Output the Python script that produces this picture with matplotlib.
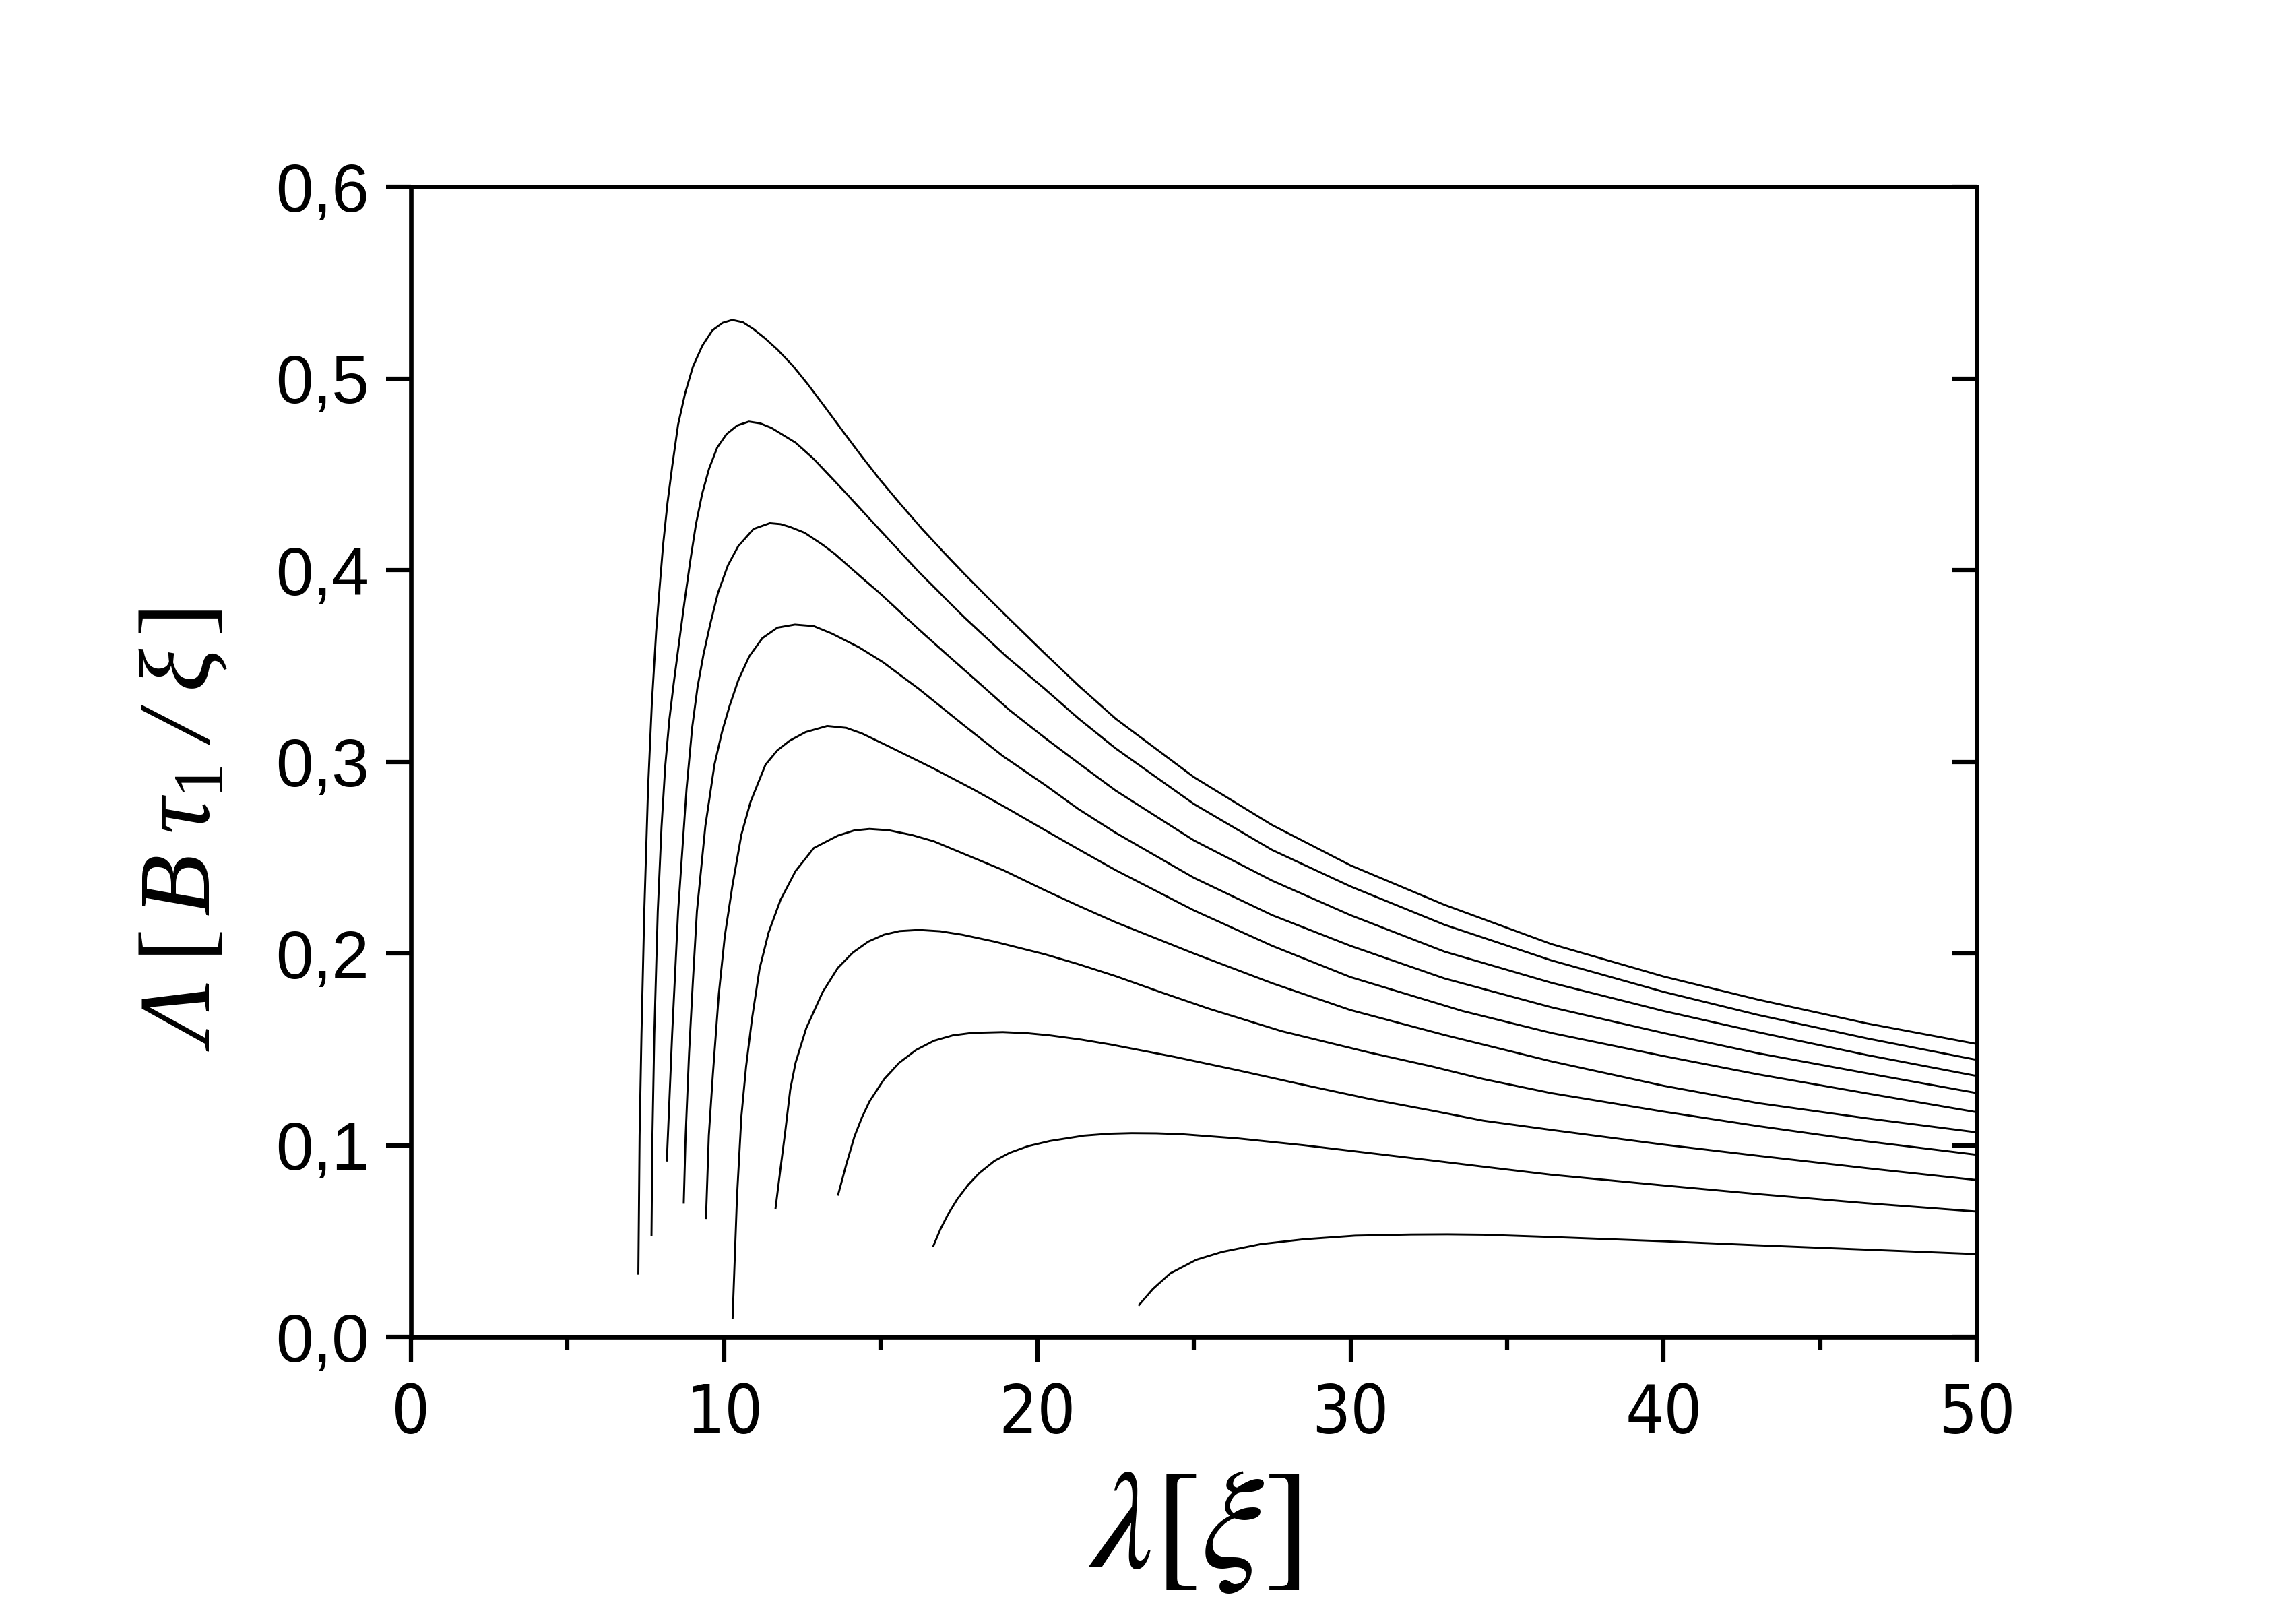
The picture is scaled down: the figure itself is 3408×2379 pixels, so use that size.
import matplotlib
matplotlib.use('Agg')
import matplotlib.pyplot as plt
from matplotlib import font_manager
from matplotlib.font_manager import FontProperties
from matplotlib.ticker import MultipleLocator, FuncFormatter, NullFormatter

# curves, from the highest peak down to the lowest
c1_x = [7.26, 7.30, 7.36, 7.45, 7.57, 7.69, 7.83, 7.94, 8.05, 8.19, 8.34, 8.53, 8.75, 9.00, 9.30,
        9.62, 9.95, 10.26, 10.6, 10.94, 11.3, 11.71, 12.2, 12.67, 13.2, 13.82, 14.4, 14.97, 15.6,
        16.32, 17.0, 17.66, 18.4, 19.11, 20.24, 21.3, 22.5, 25.0, 27.5, 30.0, 33.0, 36.4, 40.0,
        43.0, 46.5, 50.0]
c1_y = [0.033, 0.105, 0.158, 0.222, 0.286, 0.330, 0.368, 0.391, 0.413, 0.435, 0.454, 0.476, 0.492,
        0.506, 0.517, 0.525, 0.529, 0.5305, 0.5293, 0.5257, 0.5210, 0.5149, 0.5065, 0.4970, 0.4855,
        0.4718, 0.4592, 0.4473, 0.4350, 0.4215, 0.4095, 0.3982, 0.386, 0.3745, 0.3565, 0.340,
        0.3225, 0.292, 0.267, 0.246, 0.2254, 0.205, 0.188, 0.176, 0.1635, 0.1528]

c2_x = [7.68, 7.71, 7.77, 7.88, 8.00, 8.12, 8.25, 8.39, 8.55, 8.73, 8.92, 9.10, 9.30, 9.52, 9.78,
        10.08, 10.42, 10.79, 11.15, 11.51, 12.28, 12.86, 13.82, 14.97, 16.22, 17.66, 19.01, 20.24,
        21.3, 22.5, 25.0, 27.5, 30.0, 33.0, 36.4, 40.0, 43.0, 46.5, 50.0]
c2_y = [0.053, 0.105, 0.158, 0.222, 0.266, 0.298, 0.322, 0.341, 0.361, 0.383, 0.405, 0.424, 0.440,
        0.453, 0.464, 0.471, 0.4755, 0.4775, 0.4766, 0.4742, 0.4665, 0.4580, 0.4414, 0.421, 0.399,
        0.3755, 0.355, 0.338, 0.3228, 0.307, 0.278, 0.254, 0.235, 0.215, 0.1965, 0.180, 0.168,
        0.1557, 0.1445]

c3_x = [8.17, 8.23, 8.34, 8.53, 8.80, 8.98, 9.15, 9.34, 9.55, 9.80, 10.12, 10.45, 10.94, 11.46,
        11.8, 12.09, 12.57, 13.15, 13.53, 14.40, 14.97, 16.22, 17.18, 18.15, 19.11, 20.24, 21.3,
        22.5, 25.0, 27.5, 30.0, 33.0, 36.4, 40.0, 43.0, 46.5, 50.0]
c3_y = [0.092, 0.115, 0.158, 0.222, 0.286, 0.318, 0.339, 0.356, 0.3715, 0.388, 0.4025, 0.4125,
        0.4215, 0.4245, 0.4240, 0.4226, 0.4195, 0.4132, 0.4085, 0.396, 0.388, 0.369, 0.355, 0.341,
        0.327, 0.3125, 0.2995, 0.285, 0.259, 0.238, 0.220, 0.201, 0.1848, 0.170, 0.159, 0.147,
        0.1361]

c4_x = [8.71, 8.77, 8.88, 9.00, 9.13, 9.40, 9.69, 9.93, 10.17, 10.45, 10.80, 11.22, 11.70, 12.26,
        12.86, 13.44, 14.30, 15.07, 16.22, 17.66, 18.9, 20.24, 21.3, 22.5, 25.0, 27.5, 30.0, 33.0,
        36.4, 40.0, 43.0, 46.5, 50.0]
c4_y = [0.070, 0.105, 0.148, 0.185, 0.222, 0.2665, 0.2985, 0.3155, 0.329, 0.3425, 0.355, 0.3645,
        0.3700, 0.3716, 0.3708, 0.3669, 0.3598, 0.352, 0.338, 0.319, 0.303, 0.288, 0.2755, 0.263,
        0.2395, 0.220, 0.204, 0.187, 0.172, 0.1585, 0.148, 0.1375, 0.1272]

c5_x = [9.42, 9.51, 9.64, 9.83, 10.02, 10.26, 10.55, 10.84, 11.32, 11.7, 12.09, 12.6, 13.29, 13.9,
        14.40, 15.26, 16.70, 17.95, 19.01, 20.24, 21.3, 22.5, 25.0, 27.5, 30.0, 33.58, 36.4, 40.0,
        43.0, 46.5, 50.0]
c5_y = [0.062, 0.105, 0.137, 0.179, 0.209, 0.235, 0.262, 0.279, 0.2985, 0.3060, 0.3110, 0.3155,
        0.3187, 0.3177, 0.3148, 0.308, 0.2964, 0.2857, 0.276, 0.2644, 0.2545, 0.2435, 0.2225,
        0.2040, 0.1877, 0.170, 0.1586, 0.1465, 0.137, 0.127, 0.1172]

c6_x = [10.27, 10.41, 10.55, 10.70, 10.89, 11.13, 11.42, 11.80, 12.28, 12.86, 13.63, 14.15, 14.64,
        15.26, 16.0, 16.70, 17.95, 18.91, 20.24, 21.3, 22.5, 25.0, 27.5, 30.0, 33.0, 36.4, 40.0,
        43.0, 46.5, 50.0]
c6_y = [0.010, 0.073, 0.115, 0.141, 0.166, 0.192, 0.211, 0.228, 0.243, 0.255, 0.2615, 0.2642,
        0.2650, 0.2643, 0.2618, 0.2585, 0.2500, 0.2435, 0.2330, 0.2250, 0.2163, 0.2000, 0.1845,
        0.1705, 0.1575, 0.1438, 0.1310, 0.1220, 0.1140, 0.1067]

c7_x = [11.64, 11.80, 11.95, 12.11, 12.28, 12.62, 13.15, 13.63, 14.11, 14.6, 15.1, 15.6, 16.22,
        16.9, 17.6, 18.63, 20.24, 21.3, 22.5, 24.0, 25.48, 27.80, 30.56, 32.62, 34.24, 36.4, 40.0,
        43.0, 46.5, 50.0]
c7_y = [0.067, 0.088, 0.107, 0.129, 0.143, 0.161, 0.180, 0.1925, 0.2005, 0.2062, 0.2098, 0.2117,
        0.2123, 0.2116, 0.2098, 0.2062, 0.1996, 0.1945, 0.1882, 0.1795, 0.1712, 0.1595, 0.1485,
        0.1410, 0.1345, 0.1272, 0.1175, 0.1100, 0.1020, 0.0950]

c8_x = [13.64, 13.90, 14.16, 14.40, 14.64, 15.11, 15.59, 16.13, 16.70, 17.30, 17.92, 18.9, 19.7,
        20.40, 21.4, 22.32, 24.38, 26.43, 28.50, 30.56, 32.62, 34.24, 36.4, 40.0, 43.0, 46.5, 50.0]
c8_y = [0.0742, 0.090, 0.1045, 0.1145, 0.1228, 0.1345, 0.1430, 0.1497, 0.1545, 0.1573, 0.1586,
        0.1590, 0.1584, 0.1573, 0.1551, 0.1526, 0.1461, 0.1390, 0.1315, 0.1243, 0.1180, 0.1128,
        0.1080, 0.1003, 0.0945, 0.0880, 0.0818]

c9_x = [16.68, 16.90, 17.15, 17.45, 17.80, 18.15, 18.63, 19.11, 19.7, 20.40, 21.49, 22.3, 23.01,
        23.8, 24.65, 26.43, 28.50, 30.56, 32.62, 34.24, 36.4, 40.0, 43.0, 46.5, 50.0]
c9_y = [0.0474, 0.0560, 0.0640, 0.0720, 0.0795, 0.0855, 0.0918, 0.0960, 0.0995, 0.1022, 0.1050,
        0.1060, 0.1063, 0.1062, 0.1057, 0.1035, 0.1000, 0.0960, 0.0920, 0.0888, 0.0846, 0.0790,
        0.0745, 0.0697, 0.0654]

c10_x = [23.25, 23.69, 24.24, 25.07, 25.89, 27.13, 28.50, 30.15, 31.93, 33.1, 34.24, 36.4, 40.0,
         43.0, 46.5, 50.0]
c10_y = [0.0167, 0.0250, 0.0331, 0.0402, 0.0443, 0.0484, 0.0509, 0.0528, 0.0534, 0.0535, 0.0533,
         0.0521, 0.0499, 0.0478, 0.0455, 0.0432]

curves = [(c1_x, c1_y), (c2_x, c2_y), (c3_x, c3_y), (c4_x, c4_y), (c5_x, c5_y),
          (c6_x, c6_y), (c7_x, c7_y), (c8_x, c8_y), (c9_x, c9_y), (c10_x, c10_y)]

plt.rcParams['mathtext.fontset'] = 'stix'
# 'custom' math font is used only for the y label: italic capital Lambda, upright brackets
plt.rcParams['mathtext.rm'] = 'Liberation Serif:italic'
plt.rcParams['mathtext.it'] = 'Liberation Serif:italic'
plt.rcParams['mathtext.sf'] = 'Liberation Serif'
plt.rcParams['font.family'] = ['Liberation Sans', 'DejaVu Sans']


def narrow_font():
    # the x tick labels of the original are set in a condensed sans
    fonts = font_manager.fontManager.ttflist
    regular = [f for f in fonts if f.style == 'normal' and f.weight in (400, 'normal', 'regular')]
    for f in regular:
        if f.name == 'Liberation Sans Narrow':
            return f.fname
    for f in regular:
        if f.stretch in ('condensed', 'semi-condensed') and 'Mono' not in f.name \
                and 'Serif' not in f.name and 'CJK' not in f.name:
            return f.fname
    return None


fig = plt.figure(figsize=(11.36, 7.93), dpi=300)
ax = fig.add_axes([0.179, 0.166, 0.682, 0.7175])

for xs, ys in curves:
    ax.plot(xs, ys, color='black', lw=0.7)

ax.set_xlim(0, 50)
ax.set_ylim(0, 0.6)
for sp in ax.spines.values():
    sp.set_linewidth(1.6)

comma = FuncFormatter(lambda v, pos: f'{v:.1f}'.replace('.', ','))
ax.xaxis.set_major_locator(MultipleLocator(10))
ax.xaxis.set_minor_locator(MultipleLocator(5))
ax.yaxis.set_major_locator(MultipleLocator(0.1))
ax.yaxis.set_major_formatter(comma)
ax.tick_params(axis='x', which='major', direction='out', length=9, width=1.5, pad=7, labelsize=24)
ax.tick_params(axis='x', which='minor', direction='out', length=4.8, width=1.5)
ax.tick_params(axis='y', which='major', direction='out', length=9, width=1.5, pad=6, labelsize=24)
for lab in ax.get_yticklabels():
    lab.set_fontfamily('Liberation Sans')

nf = narrow_font()
if nf:
    for lab in ax.get_xticklabels():
        lab.set_fontproperties(FontProperties(fname=nf, size=24))

# inward ticks on the right side, no labels
ax_r = ax.secondary_yaxis('right')
ax_r.yaxis.set_major_locator(MultipleLocator(0.1))
ax_r.yaxis.set_major_formatter(NullFormatter())
ax_r.tick_params(direction='in', length=9, width=1.5)
ax_r.spines['right'].set_linewidth(1.6)

ax.set_xlabel(r'$\lambda[\xi]$', fontsize=50)
ax.xaxis.set_label_coords(0.5, -0.1687)
ax.xaxis.label.set_va('center')
ax.set_ylabel(r'$\Lambda\;\mathsf{[}\,B\;\tau_{\mathsf{1}}\;/\;\xi\,\mathsf{]}$',
              fontsize=36, math_fontfamily='custom')
ax.yaxis.set_label_coords(-0.1454, 0.4405)
ax.yaxis.label.set_va('center')

fig.savefig('out.png', dpi=300)
